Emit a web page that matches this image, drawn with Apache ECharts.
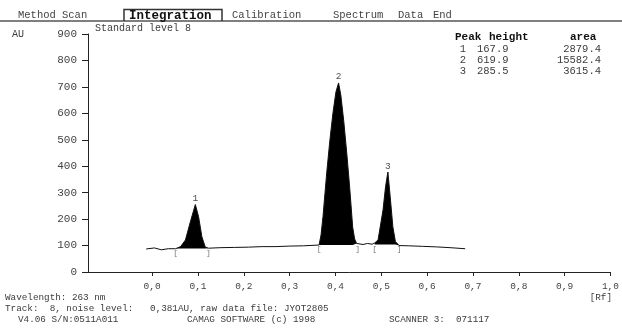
<!DOCTYPE html>
<html><head><meta charset="utf-8">
<script src="https://cdn.jsdelivr.net/npm/echarts@6/dist/echarts.min.js"></script>
<style>html,body{margin:0;padding:0;background:#fff}#c{width:622px;height:331px}</style>
</head><body><div id="c"></div>
<script>
// ---- data ----
const rfValues = [-0.013, 0.005, 0.02, 0.035, 0.051, 0.062, 0.0726, 0.0834, 0.0942, 0.1013, 0.1084, 0.1157, 0.1228,
  0.15, 0.18, 0.21, 0.24, 0.27, 0.30, 0.33, 0.3642,
  0.3685, 0.3728, 0.3772, 0.3815, 0.3879, 0.3944, 0.4009, 0.4067, 0.4116, 0.4181, 0.4246, 0.4310, 0.4375, 0.4418, 0.4461, 0.4483,
  0.46, 0.47, 0.48, 0.4856, 0.4929, 0.5037, 0.5093, 0.5144, 0.5194, 0.5252, 0.5308, 0.5388,
  0.56, 0.59, 0.62, 0.65, 0.683];
const auValues = [87, 91, 84, 88, 88, 96, 121, 190, 255, 209, 134, 95, 90,
  92, 93, 94, 96, 96, 98, 99, 102,
  140, 210, 300, 386, 500, 600, 680, 715, 670, 570, 450, 320, 170, 125, 108, 102,
  104, 108, 105, 110, 121, 234, 323, 378, 285, 171, 115, 100,
  99, 97, 95, 92, 88];
const peakNumbers = ['1', '2', '3'];
const peakApexRf = [0.0942, 0.4067, 0.5144];
const peakApexAu = [255, 715, 378];
const peakStartRf = [0.051, 0.3642, 0.4856];
const peakEndRf = [0.1228, 0.4483, 0.5388];
const peakBaseAu = [89, 102, 104];
const xTickValues = [0, 0.1, 0.2, 0.3, 0.4, 0.5, 0.6, 0.7, 0.8, 0.9, 1.0];
const xTickLabels = ['0,0', '0,1', '0,2', '0,3', '0,4', '0,5', '0,6', '0,7', '0,8', '0,9', '1,0'];
const yMin = 0, yMax = 900, yStep = 100;
const tableHeader = ['Peak', 'height', 'area'];
const tablePeak = ['1', '2', '3'];
const tableHeight = ['167.9', '619.9', '285.5'];
const tableArea = ['2879.4', '15582.4', '3615.4'];
const menuItems = ['Method', 'Scan', 'Integration', 'Calibration', 'Spectrum', 'Data', 'End'];
const titleText = 'Standard level 8';
const yUnit = 'AU';
const xUnit = '[Rf]';
const footLines = ['Wavelength: 263 nm', 'Track:  8, noise level:   0,381AU, raw data file: JYOT2805'];
const footParts = ['V4.06 S/N:0511A011', 'CAMAG SOFTWARE (c) 1998', 'SCANNER 3:  071117'];

// ---- layout / style ----
const MONO = '"Liberation Mono","DejaVu Sans Mono",monospace';
const TXT = '#3c3c3c';
const menuX = [18, 62, 129, 232, 333, 398, 433];
const footX = [18, 187, 389];

const chart = echarts.init(document.getElementById('c'), null, {renderer: 'canvas'});
const trace = rfValues.map((r, i) => [r, auValues[i]]);

const series = [];
peakNumbers.forEach((p, k) => {
  series.push({
    type: 'line', silent: true, symbol: 'none', z: 2,
    data: trace.filter(d => d[0] >= peakStartRf[k] - 1e-9 && d[0] <= peakEndRf[k] + 1e-9),
    lineStyle: {width: 0},
    areaStyle: {color: '#000', opacity: 1, origin: peakBaseAu[k]}
  });
});
series.push({
  type: 'line', silent: true, symbol: 'none', z: 3, data: trace,
  lineStyle: {color: '#111', width: 1}
});
series.push({
  type: 'scatter', silent: true, symbolSize: 0, z: 4,
  data: peakNumbers.map((p, k) => ({value: [peakApexRf[k], peakApexAu[k]], name: p})),
  label: {show: true, position: 'top', distance: 1, formatter: d => d.name,
    fontFamily: MONO, fontSize: 9.5, color: '#222'}
});
const brackets = [];
peakNumbers.forEach((p, k) => {
  brackets.push({value: [peakStartRf[k], peakBaseAu[k]], name: '['});
  brackets.push({value: [peakEndRf[k], peakBaseAu[k]], name: ']'});
});
series.push({
  type: 'scatter', silent: true, symbolSize: 0, z: 4, data: brackets,
  label: {show: true, position: 'bottom', distance: 0, formatter: d => d.name,
    fontFamily: MONO, fontSize: 8, color: '#555'}
});

const graphic = [];
// menu bar
graphic.push({type: 'line', shape: {x1: 0, y1: 21, x2: 622, y2: 21}, style: {stroke: '#555', lineWidth: 1.5}});
graphic.push({type: 'polyline', shape: {points: [[124, 21], [124, 9.5], [222, 9.5], [222, 21]]}, style: {stroke: '#333', lineWidth: 1.5, fill: null}});
menuItems.forEach((m, i) => {
  graphic.push({type: 'text', x: menuX[i], y: 15.5, style: {
    text: m, fontFamily: MONO, fontSize: i === 2 ? 12.5 : 10.5, fill: i === 2 ? '#111' : '#444',
    fontWeight: i === 2 ? 'bold' : 'normal', verticalAlign: 'middle'}});
});
// title + unit
graphic.push({type: 'text', x: 95, y: 28, style: {text: titleText, fontFamily: MONO, fontSize: 10, fill: TXT, verticalAlign: 'middle'}});
graphic.push({type: 'text', x: 12, y: 34, style: {text: yUnit, fontFamily: MONO, fontSize: 10, fill: TXT, verticalAlign: 'middle'}});
// table
const colX = [455, 489, 570];
tableHeader.forEach((h, i) => {
  graphic.push({type: 'text', x: colX[i], y: 37, style: {text: h, fontFamily: MONO, fontSize: 11, fontWeight: 'bold', fill: '#111', verticalAlign: 'middle'}});
});
tablePeak.forEach((p, r) => {
  const y = 49 + r * 11;
  graphic.push({type: 'text', x: 463, y, style: {text: p, fontFamily: MONO, fontSize: 10.5, fill: TXT, align: 'center', verticalAlign: 'middle'}});
  graphic.push({type: 'text', x: 477, y, style: {text: tableHeight[r], fontFamily: MONO, fontSize: 10.5, fill: TXT, verticalAlign: 'middle'}});
  graphic.push({type: 'text', x: 601, y, style: {text: tableArea[r], fontFamily: MONO, fontSize: 10.5, fill: TXT, align: 'right', verticalAlign: 'middle'}});
});
// footer
graphic.push({type: 'text', x: 5, y: 298, style: {text: footLines[0], fontFamily: MONO, fontSize: 9.3, fill: TXT, verticalAlign: 'middle'}});
graphic.push({type: 'text', x: 612, y: 298, style: {text: xUnit, fontFamily: MONO, fontSize: 9.3, fill: TXT, align: 'right', verticalAlign: 'middle'}});
graphic.push({type: 'text', x: 5, y: 309, style: {text: footLines[1], fontFamily: MONO, fontSize: 9.3, fill: TXT, verticalAlign: 'middle'}});
footParts.forEach((t, i) => {
  graphic.push({type: 'text', x: footX[i], y: 320, style: {text: t, fontFamily: MONO, fontSize: 9.3, fill: TXT, verticalAlign: 'middle'}});
});

chart.setOption({
  animation: false,
  backgroundColor: '#fff',
  grid: {left: 88, right: 5, top: 34, bottom: 59, containLabel: false},
  xAxis: {
    type: 'value', min: -0.14, max: 1.0,
    axisLine: {show: true, onZero: false, lineStyle: {color: '#222', width: 1}},
    axisTick: {show: true, length: 4, customValues: xTickValues, lineStyle: {color: '#222'}},
    axisLabel: {show: true, customValues: xTickValues, margin: 9, fontFamily: MONO, fontSize: 9.5, color: '#444',
      formatter: v => { const i = xTickValues.findIndex(t => Math.abs(t - v) < 1e-6); return i >= 0 ? xTickLabels[i] : ''; }},
    splitLine: {show: false}
  },
  yAxis: {
    type: 'value', min: yMin, max: yMax, interval: yStep,
    axisLine: {show: true, onZero: false, lineStyle: {color: '#222', width: 1}},
    axisTick: {show: true, length: 6, lineStyle: {color: '#222'}},
    axisLabel: {show: true, margin: 11, fontFamily: MONO, fontSize: 11, color: '#444'},
    splitLine: {show: false}
  },
  series,
  graphic
});
</script>
</body></html>
